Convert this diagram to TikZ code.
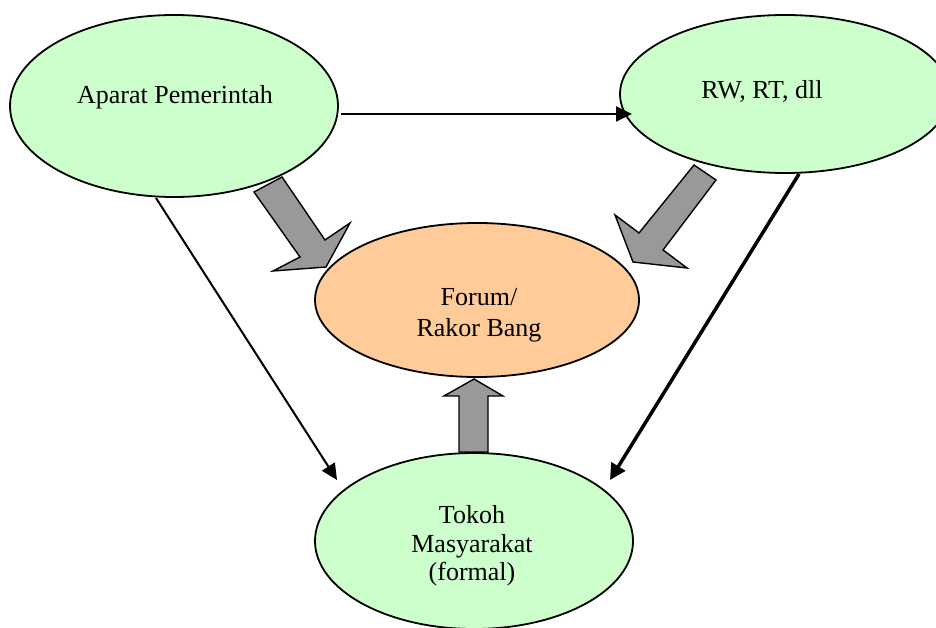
\documentclass[tikz,border=0pt]{standalone}
\usepackage{fontspec}
\setmainfont{Liberation Serif}
\usetikzlibrary{shapes.geometric,arrows.meta}
\definecolor{lgreen}{HTML}{CCFFCC}
\definecolor{lorange}{HTML}{FFCC99}
\definecolor{bgray}{HTML}{999999}
\tikzset{
  bubble/.style={ellipse, draw=black, line width=1.8pt, inner sep=0pt, outer sep=0pt},
  lbl/.style={anchor=base, inner sep=0pt, font=\fontsize{26}{30}\selectfont},
  conn/.style={line width=2pt, -{Triangle[length=16pt,width=15pt]}},
  thickconn/.style={line width=3.5pt, -{Triangle[length=16pt,width=16pt]}},
  blockarrow/.style={fill=bgray, draw=black, line width=1.4pt, line join=miter},
}
\begin{document}
\begin{tikzpicture}[x=1pt,y=-1pt]
\useasboundingbox (0,0) rectangle (936,628);
\clip (0,0) rectangle (936,628);
\fill[white] (0,0) rectangle (936,628);
% block arrows (drawn first, under the ellipses)
\draw[blockarrow] (282,177) -- (254,192) -- (300,257) -- (273,271) -- (326,267) -- (350,223) -- (325,240) -- cycle;
\draw[blockarrow] (694,165) -- (716,180) -- (663,250) -- (687,268) -- (633,262) -- (615,215) -- (639,233) -- cycle;
\draw[blockarrow] (459,452) -- (459,396) -- (444,396) -- (474,379) -- (503,396) -- (488,396) -- (488,452) -- cycle;
% ellipses
\node[bubble, fill=lgreen, minimum width=328pt, minimum height=182pt] (ap) at (174,106) {};
\node[bubble, fill=lgreen, minimum width=330pt, minimum height=158pt] (rw) at (785,94) {};
\node[bubble, fill=lorange, minimum width=324pt, minimum height=154pt] (fr) at (477,300) {};
\node[bubble, fill=lgreen, minimum width=318pt, minimum height=176pt] (tk) at (474,541) {};
% labels
\node[lbl] (tap) at (175,104) {Aparat Pemerintah};
\node[lbl] (trw) at (762,99) {RW, RT, dll};
\node[lbl] (tfr1) at (479,305) {Forum/};
\node[lbl] (tfr2) at (479,336) {Rakor Bang};
\node[lbl] (ttk1) at (472,523) {Tokoh};
\node[lbl] (ttk2) at (472,552) {Masyarakat};
\node[lbl] (ttk3) at (472,580) {(formal)};
% connectors
\coordinate (h1) at (341,114);
\coordinate (h2) at (632,114);
\coordinate (d1s) at (156,198);
\coordinate (d1e) at (337,480);
\coordinate (d2s) at (799,174);
\coordinate (d2e) at (610,480);
\draw[conn] (h1) -- (h2);
\draw[conn] (d1s) -- (d1e);
\draw[thickconn] (d2s) -- (d2e);
\end{tikzpicture}
\end{document}
